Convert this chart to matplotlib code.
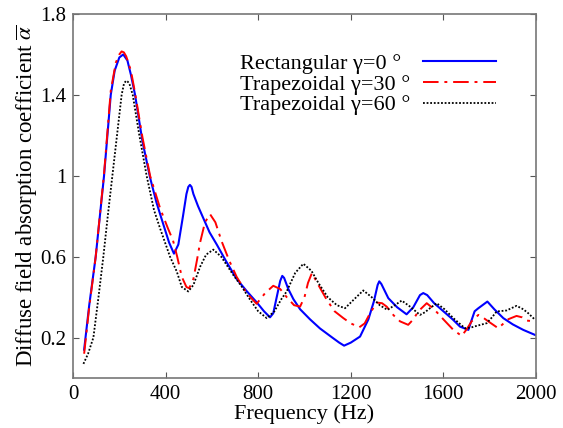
import matplotlib
matplotlib.use('Agg')
import matplotlib.pyplot as plt

# values
freq_rect = [48, 70, 98, 115, 134, 150, 163, 180, 200, 217, 235, 250, 268, 300, 333, 360,
             390, 415, 436, 455, 475, 490, 498, 505, 512, 520, 540, 563, 590, 621, 660, 707,
             750, 793, 825, 851, 865, 880, 895, 904, 912, 930, 952, 981, 1024, 1067, 1120,
             1150, 1171, 1200, 1240, 1276, 1300, 1316, 1323, 1332, 1362, 1400, 1441, 1470,
             1499, 1513, 1530, 1560, 1600, 1640, 1672, 1708, 1720, 1735, 1751, 1790, 1820,
             1859, 1900, 1945, 1996]
alpha_rect = [0.14, 0.36, 0.60, 0.79, 1.00, 1.22, 1.40, 1.52, 1.585, 1.60, 1.57, 1.50, 1.40,
              1.17, 0.99, 0.87, 0.76, 0.67, 0.615, 0.66, 0.80, 0.91, 0.945, 0.955, 0.945,
              0.91, 0.85, 0.79, 0.72, 0.66, 0.58, 0.49, 0.43, 0.375, 0.33, 0.30, 0.32, 0.40,
              0.48, 0.505, 0.495, 0.44, 0.39, 0.34, 0.29, 0.245, 0.20, 0.175, 0.16, 0.175,
              0.205, 0.29, 0.38, 0.46, 0.478, 0.465, 0.395, 0.35, 0.315, 0.35, 0.41, 0.42,
              0.41, 0.37, 0.33, 0.29, 0.254, 0.238, 0.28, 0.33, 0.345, 0.378, 0.34, 0.296,
              0.265, 0.238, 0.213]

freq_trap30 = [48, 70, 98, 134, 163, 185, 200, 210, 220, 230, 250, 268, 300, 333, 376, 410,
               432, 450, 470, 490, 502, 520, 535, 549, 570, 592, 615, 642, 675, 707, 750,
               793, 830, 865, 895, 923, 955, 981, 1000, 1015, 1032, 1060, 1096, 1130, 1168,
               1200, 1237, 1260, 1283, 1312, 1335, 1355, 1385, 1413, 1448, 1470, 1492, 1528,
               1560, 1600, 1643, 1679, 1700, 1722, 1751, 1770, 1794, 1837, 1860, 1881, 1916,
               1940, 1960, 1996]
alpha_trap30 = [0.12, 0.35, 0.60, 1.01, 1.42, 1.56, 1.60, 1.615, 1.61, 1.59, 1.52, 1.41,
                1.19, 1.00, 0.84, 0.74, 0.68, 0.60, 0.50, 0.45, 0.444, 0.49, 0.58, 0.67,
                0.77, 0.81, 0.77, 0.676, 0.58, 0.50, 0.42, 0.367, 0.42, 0.456, 0.44, 0.40,
                0.36, 0.353, 0.40, 0.47, 0.519, 0.46, 0.387, 0.33, 0.296, 0.27, 0.251, 0.27,
                0.32, 0.373, 0.37, 0.353, 0.31, 0.28, 0.263, 0.29, 0.33, 0.37, 0.34, 0.29,
                0.238, 0.208, 0.24, 0.28, 0.312, 0.30, 0.28, 0.246, 0.27, 0.291, 0.307, 0.30,
                0.284, 0.28]

freq_trap60 = [45, 65, 88, 110, 131, 150, 170, 190, 210, 220, 229, 237, 245, 258, 285, 318,
               350, 376, 419, 448, 470, 498, 520, 549, 575, 606, 640, 692, 730, 765, 800, 837,
               870, 900, 923, 960, 995, 1030, 1060, 1100, 1140, 1175, 1215, 1254, 1290, 1325,
               1358, 1390, 1420, 1456, 1499, 1520, 1542, 1571, 1605, 1643, 1693, 1720, 1744,
               1787, 1810, 1830, 1873, 1916, 1945, 1967, 1996]
alpha_trap60 = [0.07, 0.12, 0.20, 0.40, 0.60, 0.80, 1.00, 1.20, 1.40, 1.455, 1.47, 1.465,
                1.45, 1.40, 1.21, 1.00, 0.83, 0.74, 0.60, 0.527, 0.45, 0.428, 0.46, 0.55,
                0.61, 0.635, 0.60, 0.51, 0.45, 0.387, 0.33, 0.296, 0.33, 0.39, 0.428, 0.52,
                0.565, 0.53, 0.47, 0.40, 0.36, 0.345, 0.39, 0.433, 0.40, 0.36, 0.337, 0.36,
                0.383, 0.353, 0.312, 0.325, 0.345, 0.37, 0.34, 0.296, 0.246, 0.25, 0.258,
                0.271, 0.30, 0.329, 0.334, 0.357, 0.34, 0.32, 0.288]

labels = ["Rectangular γ=0 °", "Trapezoidal γ=30 °", "Trapezoidal γ=60 °"]
x_ticks = [0, 400, 800, 1200, 1600, 2000]
y_ticks = [0.2, 0.6, 1.0, 1.4, 1.8]
y_ticklabels = ["0.2", "0.6", "1", "1.4", "1.8"]

plt.rcParams['font.family'] = ['Liberation Serif', 'DejaVu Serif']
plt.rcParams['mathtext.fontset'] = 'stix'

fig = plt.figure(figsize=(5.63, 4.28), dpi=100)
ax = fig.add_axes([0.1297, 0.1168, 0.8223, 0.8505])

h1, = ax.plot(freq_rect, alpha_rect, color='#0000ff', lw=1.5)
h2, = ax.plot(freq_trap30, alpha_trap30, color='#ff0000', lw=1.4,
              linestyle=(0, (8, 3, 1.5, 3)))
h3, = ax.plot(freq_trap60, alpha_trap60, color='black', lw=1.3,
              linestyle=(0, (1, 1)))
handles = [h1, h2, h3]

ax.set_xlim(0, 2000)
ax.set_ylim(0, 1.8)
ax.set_xticks(x_ticks)
ax.set_yticks(y_ticks)
ax.set_yticklabels(y_ticklabels)
ax.tick_params(direction='in', top=True, right=True, length=4, width=0.8,
               labelsize=15, color='#555555', pad=5)
for s in ax.spines.values():
    s.set_color('#777777')
    s.set_linewidth(1.2)

ax.set_xlabel("Frequency (Hz)", fontsize=16, labelpad=0)
ax.set_ylabel(r"Diffuse field absorption coefficient $\overline{\alpha}$", fontsize=16.5,
              labelpad=1)

# legend: left-aligned labels in one box, line samples in another
leg_kw = dict(loc='upper left', frameon=False, fontsize=16, labelspacing=0.0,
              borderpad=0.0, borderaxespad=0.0)
leg_text = ax.legend(handles, labels, bbox_to_anchor=(0.361, 0.891),
                     handlelength=0, handletextpad=0, **leg_kw)
for ln in leg_text.get_lines():
    ln.set_visible(False)
ax.add_artist(leg_text)
ax.legend(handles, [" "] * 3, bbox_to_anchor=(0.756, 0.891),
          handlelength=3.3, handletextpad=0, **leg_kw)

fig.savefig("out.png", dpi=100)
